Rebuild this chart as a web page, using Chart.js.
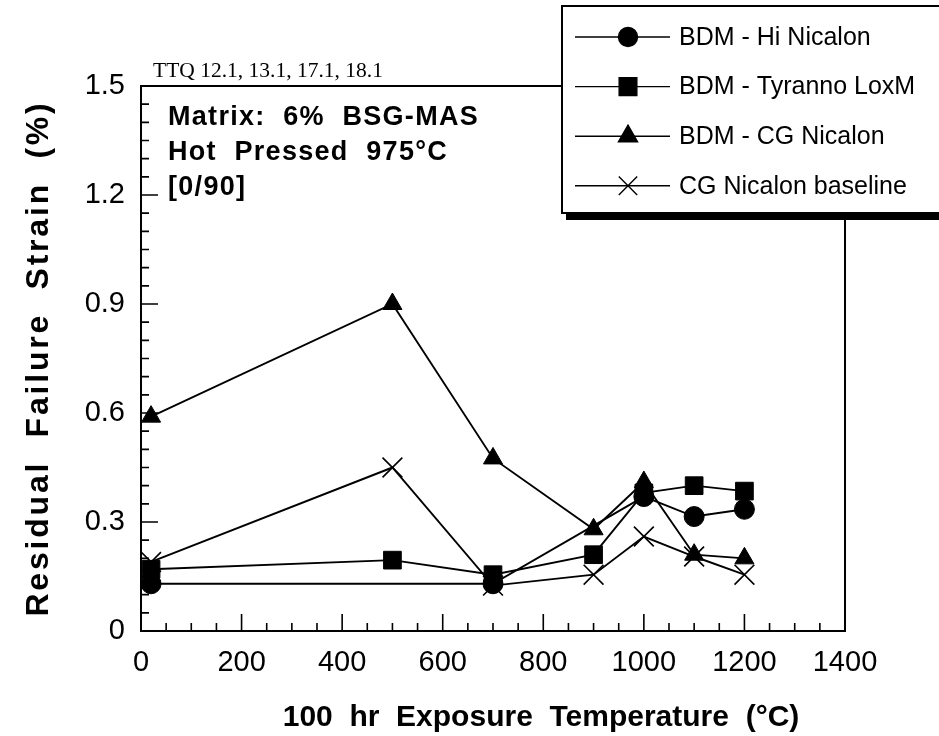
<!DOCTYPE html>
<html>
<head>
<meta charset="utf-8">
<script src="https://cdn.jsdelivr.net/npm/chart.js@4/dist/chart.umd.min.js"></script>
<style>
body { margin: 0; background: #fff; }
#wrap { width: 939px; height: 736px; }
</style>
</head>
<body>
<div id="wrap"><canvas id="chart" width="939" height="736"></canvas></div>
<script>
var xTicks = [0, 200, 400, 600, 800, 1000, 1200, 1400];
var yTicks = [0, 0.3, 0.6, 0.9, 1.2, 1.5];

var hiNicalonTemp = [20, 700, 1000, 1100, 1200];
var hiNicalonStrain = [0.13, 0.13, 0.37, 0.315, 0.335];

var tyrannoTemp = [20, 500, 700, 900, 1000, 1100, 1200];
var tyrannoStrain = [0.17, 0.195, 0.155, 0.21, 0.38, 0.40, 0.385];

var cgNicalonTemp = [20, 500, 700, 900, 1000, 1100, 1200];
var cgNicalonStrain = [0.59, 0.90, 0.475, 0.28, 0.41, 0.21, 0.20];

var baselineTemp = [20, 500, 700, 900, 1000, 1100, 1200];
var baselineStrain = [0.19, 0.45, 0.125, 0.155, 0.26, 0.205, 0.155];

var seriesNames = ['BDM - Hi Nicalon', 'BDM - Tyranno LoxM', 'BDM - CG Nicalon', 'CG Nicalon baseline'];
var sourceNote = 'TTQ 12.1, 13.1, 17.1, 18.1';
var noteLines = ['Matrix:  6%  BSG-MAS', 'Hot  Pressed  975°C', '[0/90]'];

var SANS = '"Liberation Sans", Arial, Helvetica, sans-serif';

function toPoints(xs, ys) {
    return xs.map(function(x, i) { return { x: x, y: ys[i] }; });
}

function series(label, xs, ys, style, radius, legendRadius) {
    return {
        label: label,
        data: toPoints(xs, ys),
        showLine: true,
        tension: 0,
        borderColor: '#000',
        borderWidth: 1.9,
        pointStyle: style,
        pointRadius: radius,
        pointBackgroundColor: '#000',
        pointBorderColor: '#000',
        pointBorderWidth: style === 'crossRot' ? 1.6 : 1,
        legendRadius: legendRadius
    };
}

// the scanned titles are tracked wider than Arial, and the x title sits right of centre
function spacedTitle(scale, spacing, shiftX) {
    if (scale._spacedTitle) return;
    var orig = scale.drawTitle;
    scale.drawTitle = function() {
        var ctx = this.ctx;
        ctx.save();
        ctx.letterSpacing = spacing;
        ctx.translate(shiftX, 0);
        orig.apply(this, arguments);
        ctx.restore();
    };
    scale._spacedTitle = true;
}

// inward ticks and the closed frame round the plot
var frameTicks = {
    id: 'frameTicks',
    beforeDatasetsDraw: function(chart) {
        var ctx = chart.ctx;
        var a = chart.chartArea;
        var xs = chart.scales.x, ys = chart.scales.y;
        ctx.save();
        ctx.strokeStyle = '#000';
        ctx.lineWidth = 2;
        ctx.strokeRect(a.left, a.top, a.right - a.left, a.bottom - a.top);
        ctx.lineWidth = 1.6;
        ctx.beginPath();
        for (var t = 50; t < 1400; t += 50) {
            var px = xs.getPixelForValue(t);
            var len = (t % 200 === 0) ? 17 : 8;
            ctx.moveTo(px, a.bottom);
            ctx.lineTo(px, a.bottom - len);
        }
        for (var k = 1; k < 30; k++) {
            var py = ys.getPixelForValue(k * 0.05);
            var l2 = (k % 6 === 0) ? 17 : 8;
            ctx.moveTo(a.left, py);
            ctx.lineTo(a.left + l2, py);
        }
        ctx.stroke();
        ctx.restore();
    },
    afterDraw: function(chart) {
        var ctx = chart.ctx;
        ctx.save();
        ctx.fillStyle = '#000';
        ctx.textBaseline = 'alphabetic';
        ctx.textAlign = 'left';
        ctx.font = '21.5px "Liberation Serif", "Times New Roman", serif';
        ctx.fillText(sourceNote, 153, 77);
        ctx.font = 'bold 27px ' + SANS;
        ctx.letterSpacing = '1.3px';
        noteLines.forEach(function(s, i) {
            ctx.fillText(s, 168, 125 + i * 35);
        });
        ctx.letterSpacing = '0px';

        // legend box with its drop shadow
        ctx.fillStyle = '#000';
        ctx.fillRect(566, 15, 400, 205);
        ctx.fillStyle = '#fff';
        ctx.fillRect(562, 6, 400, 207);
        ctx.strokeStyle = '#000';
        ctx.lineWidth = 2;
        ctx.strokeRect(562, 6, 400, 207);

        ctx.font = '25px ' + SANS;
        ctx.textBaseline = 'middle';
        chart.data.datasets.forEach(function(ds, i) {
            var y = 37 + i * 49.6;
            ctx.strokeStyle = '#000';
            ctx.lineWidth = 1.4;
            ctx.beginPath();
            ctx.moveTo(575, y);
            ctx.lineTo(670, y);
            ctx.stroke();
            ctx.fillStyle = '#000';
            Chart.helpers.drawPoint(ctx, {
                pointStyle: ds.pointStyle,
                radius: ds.legendRadius,
                rotation: 0,
                borderWidth: ds.pointBorderWidth
            }, 628, y);
            ctx.fillStyle = '#000';
            ctx.fillText(ds.label, 679, y + 1);
        });
        ctx.restore();
    }
};

var ctxMain = document.getElementById('chart').getContext('2d');
var mainChart = new Chart(ctxMain, {
    type: 'line',
    data: {
        datasets: [
            series(seriesNames[0], hiNicalonTemp, hiNicalonStrain, 'circle', 10, 9.5),
            series(seriesNames[1], tyrannoTemp, tyrannoStrain, 'rect', 12.5, 12.5),
            series(seriesNames[2], cgNicalonTemp, cgNicalonStrain, 'triangle', 11, 11),
            series(seriesNames[3], baselineTemp, baselineStrain, 'crossRot', 14, 13)
        ]
    },
    options: {
        responsive: false,
        animation: false,
        devicePixelRatio: 1,
        layout: { padding: { left: 0, top: 86, right: 94, bottom: 0 } },
        plugins: {
            legend: { display: false },
            tooltip: { enabled: false }
        },
        scales: {
            x: {
                type: 'linear',
                min: 0,
                max: 1400,
                afterBuildTicks: function(scale) {
                    scale.ticks = xTicks.map(function(v) { return { value: v }; });
                },
                afterFit: function(scale) {
                    scale.height = 105;
                    spacedTitle(scale, '0px', 48);
                },
                grid: { display: false, drawTicks: false },
                border: { display: true, color: '#000', width: 2 },
                ticks: {
                    color: '#000',
                    padding: 15,
                    maxRotation: 0,
                    autoSkip: false,
                    font: { family: SANS, size: 29 },
                    callback: function(v) { return String(v); }
                },
                title: {
                    display: true,
                    text: '100  hr  Exposure  Temperature  (°C)',
                    color: '#000',
                    padding: { top: 0, bottom: 0 },
                    font: { family: SANS, size: 30, weight: 'bold' }
                }
            },
            y: {
                type: 'linear',
                min: 0,
                max: 1.5,
                afterBuildTicks: function(scale) {
                    scale.ticks = yTicks.map(function(v) { return { value: v }; });
                },
                afterFit: function(scale) {
                    scale.width = 141;
                    spacedTitle(scale, '2.8px', 0);
                },
                grid: { display: false, drawTicks: false },
                border: { display: true, color: '#000', width: 2 },
                ticks: {
                    color: '#000',
                    padding: 16,
                    autoSkip: false,
                    font: { family: SANS, size: 29 },
                    callback: function(v) { return v === 0 ? '0' : v.toFixed(1); }
                },
                title: {
                    display: true,
                    text: 'Residual  Failure  Strain  (%)',
                    color: '#000',
                    padding: { top: 20, bottom: 20 },
                    font: { family: SANS, size: 32, weight: 'bold' }
                }
            }
        }
    },
    plugins: [frameTicks]
});
</script>
</body>
</html>
